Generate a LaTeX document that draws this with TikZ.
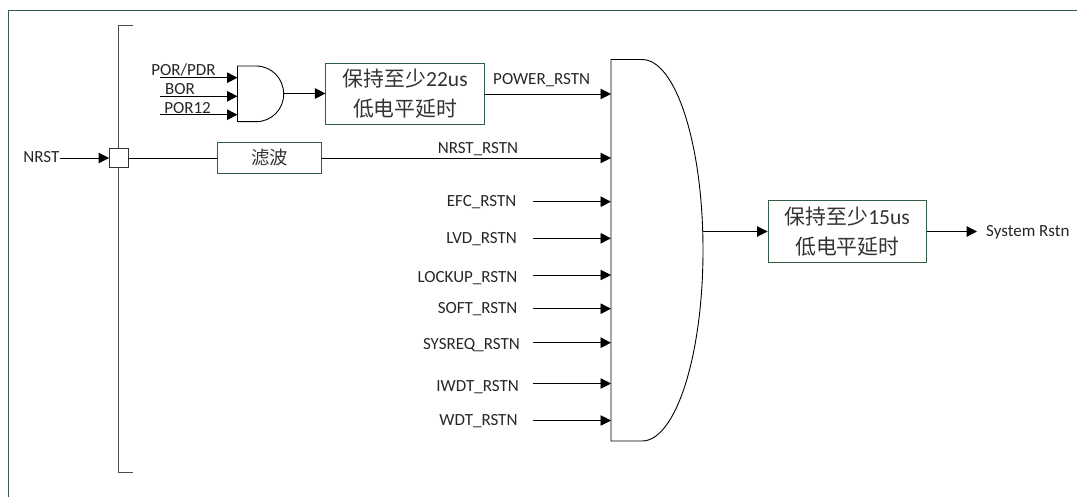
\documentclass[tikz,border=0pt]{standalone}
\usepackage{fontspec}
\setmainfont{Carlito}
\newfontfamily\cjk{Noto Sans CJK SC}[Scale=0.97]
\usetikzlibrary{arrows.meta}
\definecolor{boxgreen}{HTML}{2F5F45}
\tikzset{
  box/.style={draw=boxgreen,line width=1pt,fill=white,inner sep=0pt,align=center,text=black!80,font=\fontsize{21.5}{30}\selectfont},
  lab/.style={inner sep=0pt,text=black!85,font=\fontsize{17}{19}\selectfont,anchor=base},
  sig/.style={draw=black,line width=0.9pt,-{Triangle[length=10.5pt,width=10.5pt]}},
  gate/.style={draw=black,line width=0.9pt,fill=white},
  bus/.style={draw=black!70,line width=1pt}
}
\begin{document}
\begin{tikzpicture}[x=1pt,y=-1pt]
\useasboundingbox (0,0) rectangle (1077,497);
\draw[boxgreen,line width=1pt] (8.7,497) -- (8.7,10.7) -- (1077,10.7);
% bus
\draw[bus] (133.3,25.7) -- (118.7,25.7) -- (118.7,472) -- (133.3,472);
\node[draw=black!80,line width=1pt,fill=white,minimum size=18.5pt,inner sep=0pt] (junc) at (118.8,158) {};
% small AND gate
\draw[gate] (237.5,66) -- (256,66) .. controls (271.5,66) and (283.7,78.5) .. (283.7,94) .. controls (283.7,109.5) and (271.5,121.7) .. (256,121.7) -- (237.5,121.7) -- cycle;
\coordinate (g1) at (237.5,77.7);
\coordinate (g2) at (237.5,96.3);
\coordinate (g3) at (237.5,114.7);
\coordinate (gout) at (283.7,93.5);
\coordinate (p1) at (160,77.7);
\coordinate (p2) at (160,96.3);
\coordinate (p3) at (160,114.7);
\draw[sig] (p1) -- (g1);
\draw[sig] (p2) -- (g2);
\draw[sig] (p3) -- (g3);
\node[lab] (lp) at (183.5,76) {POR/PDR};
\node[lab] (lb) at (180,95) {BOR};
\node[lab] (lq) at (187.5,114) {POR12};
% boxes
\node[box,minimum width=158.5pt,minimum height=61.5pt] (hold22) at (405.2,94) {\cjk 保持至少\rmfamily 22us\\\cjk 低电平延时};
\node[box,minimum width=104.5pt,minimum height=31pt,font=\fontsize{19}{22}\selectfont] (filt) at (269.5,158) {\cjk 滤波};
\node[box,minimum width=158.5pt,minimum height=61.5pt] (hold15) at (847.3,231.5) {\cjk 保持至少\rmfamily 15us\\\cjk 低电平延时};
% big gate
\draw[gate] (611,59.5) -- (642,59.5) .. controls (675.7,59.5) and (703,144.5) .. (703,250) .. controls (703,355.5) and (675.7,441) .. (642,441) -- (611,441) -- cycle;
\coordinate (bout) at (703,231.5);
\draw[sig] (gout) -- (gout -| hold22.west);
\coordinate (pw) at (611,94);
\draw[sig] (hold22.east) -- (pw);
\node[lab] at (541.7,84.3) {POWER\_RSTN};
\node[lab,anchor=base east] (nl) at (59.5,163) {NRST};
\draw[sig] (nl.east |- junc) -- (junc.west);
\draw[line width=.9pt] (junc.east) -- (filt.west);
\coordinate (nr) at (611,158);
\draw[sig] (filt.east) -- (nr);
\node[lab] at (478,154) {NRST\_RSTN};
\foreach \n/\y/\b/\r in {EFC/201.7/206.7/516.5,LVD/238.3/243.3/517,LOCKUP/275/282.3/517.6,SOFT/308.7/313.8/517.6,SYSREQ/342.7/349/520,IWDT/383.5/391.7/519,WDT/420.5/425.7/517.7}{
  \draw[sig] (533,\y) -- (611,\y);
  \node[lab,anchor=base east] at (\r,\b) {\n\_RSTN};
}
\draw[sig] (bout) -- (hold15.west);
\coordinate (out) at (977,231.5);
\draw[sig,line width=1.1pt] (hold15.east) -- (out);
\node[lab,anchor=base west] at (986,237) {System Rstn};
\end{tikzpicture}
\end{document}
